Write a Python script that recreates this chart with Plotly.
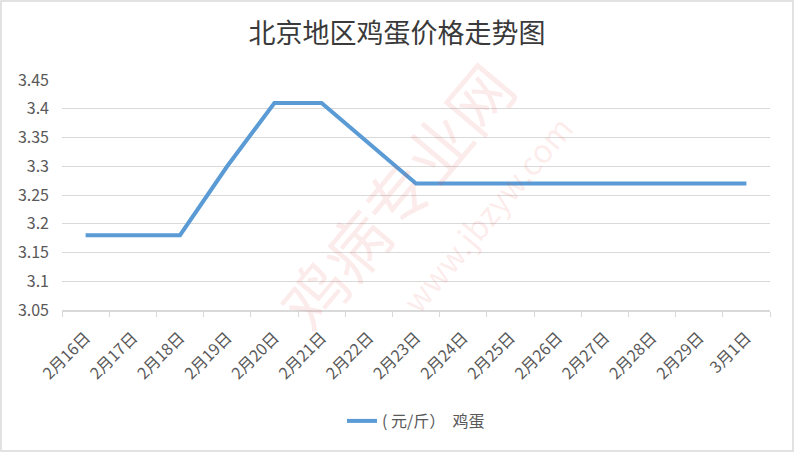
import plotly.graph_objects as go

dates = ["2月16日", "2月17日", "2月18日", "2月19日", "2月20日", "2月21日", "2月22日",
         "2月23日", "2月24日", "2月25日", "2月26日", "2月27日", "2月28日", "2月29日", "3月1日"]
prices = [3.18, 3.18, 3.18, 3.30, 3.41, 3.41, 3.34, 3.27, 3.27, 3.27, 3.27, 3.27, 3.27, 3.27, 3.27]
series_name = "( 元/斤）  鸡蛋"
y_ticks = [3.05, 3.1, 3.15, 3.2, 3.25, 3.3, 3.35, 3.4, 3.45]
y_labels = ["3.05", "3.1", "3.15", "3.2", "3.25", "3.3", "3.35", "3.4", "3.45"]

W, H = 794, 452
ml, mr, mt, mb = 62, 24, 80, 142
pw, ph = W - ml - mr, H - mt - mb

fig = go.Figure()
fig.add_trace(go.Scatter(
    x=dates, y=prices, mode="lines", name=series_name,
    line=dict(color="#5b9bd5", width=4),
))

fig.update_layout(
    width=W, height=H,
    margin=dict(l=ml, r=mr, t=mt, b=mb, autoexpand=False),
    paper_bgcolor="white", plot_bgcolor="white",
    font=dict(family="Noto Sans CJK SC, sans-serif", color="#595959"),
    title=dict(text="北京地区鸡蛋价格走势图", x=0.5, xanchor="center", y=1 - 34 / H, yanchor="middle",
               font=dict(size=27, color="#3a3a3a", family="Noto Sans CJK SC, sans-serif")),
    showlegend=True,
    legend=dict(orientation="h", x=0.5, xanchor="center", y=-(421 - 310) / ph, yanchor="middle",
                font=dict(size=16, color="#595959")),
    xaxis=dict(type="category", range=[-0.5, len(dates) - 0.5], tickson="boundaries",
               ticks="outside", ticklen=5, tickcolor="#d9d9d9", showline=True, linecolor="#d9d9d9",
               linewidth=2, showgrid=False, tickangle=-45, automargin=False, ticklabelstandoff=10,
               tickfont=dict(size=16, color="#595959")),
    yaxis=dict(range=[3.05, 3.45], tickvals=y_ticks, ticktext=y_labels, showgrid=True,
               gridcolor="#d9d9d9", gridwidth=1, zeroline=False, ticks="", showline=False,
               automargin=False, ticklabelstandoff=12,
               tickfont=dict(size=16, color="#595959")),
)

# watermark
fig.add_annotation(text="鸡病专业网", xref="paper", yref="paper", x=0.47, y=0.50,
                   showarrow=False, textangle=-50,
                   font=dict(size=64, color="rgba(230,60,60,0.10)"))
fig.add_annotation(text="www.jbzyw.com", xref="paper", yref="paper", x=0.6, y=0.42,
                   showarrow=False, textangle=-50,
                   font=dict(size=32, color="rgba(230,60,60,0.10)"))

# chart border
fig.add_shape(type="rect", xref="paper", yref="paper",
              x0=-(ml - 1) / pw, x1=1 + (mr - 1) / pw, y0=-(mb - 1) / ph, y1=1 + (mt - 1) / ph,
              line=dict(color="#d9d9d9", width=1.5), layer="below")

fig.write_html("out.html", config={"displayModeBar": False},
               post_script="document.body.style.margin='0';")
